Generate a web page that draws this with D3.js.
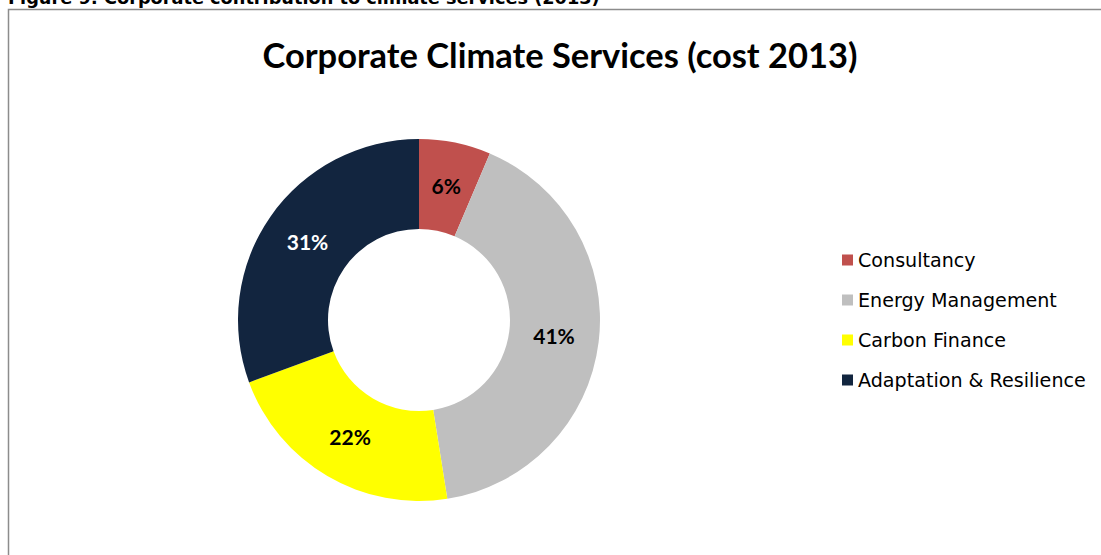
<!DOCTYPE html>
<html>
<head>
<meta charset="utf-8">
<script src="https://cdn.jsdelivr.net/npm/d3@7"></script>
<style>
  html, body { margin: 0; padding: 0; background: #fff; overflow: hidden; }
  svg { display: block; }
</style>
</head>
<body>
<script>
// Share of 2013 cost by service line (percent)
const categories = ["Consultancy", "Energy Management", "Carbon Finance", "Adaptation & Resilience"];
const shares = [6.4, 41.1, 21.9, 30.6];
const sliceColors = ["#C0504D", "#BFBFBF", "#FFFF00", "#12253F"];
const labelColors = ["#000", "#000", "#000", "#fff"];

const figureCaption = "Figure 9: Corporate contribution to climate services (2013)";
const chartTitle = "Corporate Climate Services (cost 2013)";

const W = 1101, H = 555;
const svg = d3.select("body").append("svg").attr("width", W).attr("height", H);

// helper: shrink/grow a text element's font size so it spans a target width
function fitWidth(sel, target) {
  const node = sel.node();
  const fs = parseFloat(sel.attr("font-size"));
  const w = node.getComputedTextLength();
  sel.attr("font-size", (fs * target / w).toFixed(2));
}

// caption above the frame (runs off the page top)
const cap = svg.append("text")
  .attr("x", 8).attr("y", 4)
  .attr("font-family", "'DejaVu Sans', Verdana, sans-serif")
  .attr("font-weight", "bold")
  .attr("font-size", 14)
  .attr("fill", "#000")
  .text(figureCaption);
fitWidth(cap, 592);

// chart frame
svg.append("rect")
  .attr("x", 8.5).attr("y", 9.5)
  .attr("width", W + 20).attr("height", H + 20)
  .attr("fill", "#fff")
  .attr("stroke", "#8c8c8c")
  .attr("stroke-width", 1.5);

// title
const title = svg.append("text")
  .attr("x", 560).attr("y", 68)
  .attr("text-anchor", "middle")
  .attr("font-family", "Lato, 'Open Sans', sans-serif")
  .attr("font-weight", "bold")
  .attr("font-size", 30)
  .attr("fill", "#000")
  .text(chartTitle);
fitWidth(title, 595);

// donut
const cx = 419, cy = 320, rOuter = 181, rInner = 91;
const data = categories.map((c, i) => ({ name: c, value: shares[i], i }));
const pie = d3.pie().value(d => d.value).sort(null);
const arc = d3.arc().innerRadius(rInner).outerRadius(rOuter);
const arcs = pie(data);

const g = svg.append("g").attr("transform", `translate(${cx},${cy})`);
g.selectAll("path.slice")
  .data(arcs)
  .join("path")
  .attr("class", "slice")
  .attr("d", arc)
  .attr("fill", d => sliceColors[d.data.i]);

g.selectAll("text.pct")
  .data(arcs)
  .join("text")
  .attr("class", "pct")
  .attr("transform", d => `translate(${arc.centroid(d)})`)
  .attr("text-anchor", "middle")
  .attr("dy", "0.36em")
  .attr("font-family", "Lato, 'Open Sans', sans-serif")
  .attr("font-weight", "bold")
  .attr("font-size", 21)
  .attr("fill", d => labelColors[d.data.i])
  .text(d => Math.round(d.data.value) + "%");

// legend
const legend = svg.append("g").attr("transform", "translate(842,260)");
const rowH = 40;
const items = legend.selectAll("g.item")
  .data(data)
  .join("g")
  .attr("class", "item")
  .attr("transform", d => `translate(0,${d.i * rowH})`);
items.append("rect")
  .attr("x", 0).attr("y", -5.5)
  .attr("width", 11).attr("height", 11)
  .attr("fill", d => sliceColors[d.i]);
const legTexts = items.append("text")
  .attr("x", 16).attr("dy", "0.36em")
  .attr("font-family", "'DejaVu Sans', Verdana, sans-serif")
  .attr("font-size", 17)
  .attr("fill", "#000")
  .text(d => d.name);
// size legend text so the longest entry ends at the right margin
const longest = legTexts.nodes()[3];
const lw = longest.getComputedTextLength();
const lfs = (17 * 228 / lw).toFixed(2);
legTexts.attr("font-size", lfs);
</script>
</body>
</html>
